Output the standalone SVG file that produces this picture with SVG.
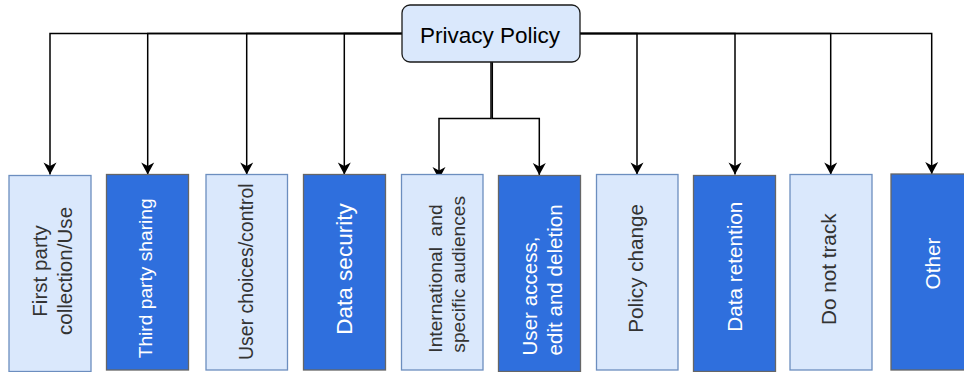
<svg xmlns="http://www.w3.org/2000/svg" width="964" height="372" viewBox="0 0 964 372">
<style>
.lt{fill:#dae8fc;stroke:#6c8ebf;stroke-width:1.3}
.dk{fill:#2f6fdd;stroke:#666666;stroke-width:1.3}
.root{fill:#dae8fc;stroke:#1a1a1a;stroke-width:1.3}
text{font-family:"Liberation Sans",Arial,Helvetica,sans-serif}
.tl{fill:#333333}
.td{fill:#ffffff}
.e{fill:none;stroke:#000000;stroke-width:1.5;marker-end:url(#arr)}
</style>
<defs>
<marker id="arr" viewBox="0 0 14 14" markerUnits="userSpaceOnUse" markerWidth="14" markerHeight="14" refX="13" refY="7" orient="auto">
<path d="M1,0.5 L13,7 L1,13.5 L4.5,7 Z" fill="#000000"/>
</marker>
</defs>
<g id="connectors">
<path class="e" d="M402,33.5 H50 V174.5"/>
<path class="e" d="M402,33.5 H147.7 V174.5"/>
<path class="e" d="M402,33.5 H246.7 V174.5"/>
<path class="e" d="M402,33.5 H344.3 V174.5"/>
<path class="e" d="M491,62 V118.5 H439 V179"/>
<path class="e" d="M492.3,62 V118.5 H539.3 V175"/>
<path class="e" d="M580,33.5 H637 V174.5"/>
<path class="e" d="M580,33.5 H735 V174.5"/>
<path class="e" d="M580,33.5 H830.7 V174.5"/>
<path class="e" d="M580,33.5 H931.7 V174"/>
</g>
<g id="root">
<rect class="root" x="402" y="5" width="178" height="57" rx="8"/>
<text x="490" y="42.5" font-size="22.5" text-anchor="middle" fill="#000000">Privacy Policy</text>
</g>
<g id="n1">
<rect class="lt" x="9" y="175.5" width="82" height="196"/>
<text class="tl" font-size="20.6" text-anchor="middle" transform="translate(46.5,271) rotate(-90)">First party</text>
<text class="tl" font-size="20.6" text-anchor="middle" transform="translate(71.5,271) rotate(-90)">collection/Use</text>
</g>
<g id="n2">
<rect class="dk" x="106.5" y="174.5" width="82" height="195.5"/>
<text class="td" font-size="19.2" text-anchor="middle" transform="translate(151.7,278.3) rotate(-90)">Third party sharing</text>
</g>
<g id="n3">
<rect class="lt" x="206" y="174.5" width="81.5" height="195.5"/>
<text class="tl" font-size="19.5" text-anchor="middle" transform="translate(253.3,271.7) rotate(-90)">User choices/control</text>
</g>
<g id="n4">
<rect class="dk" x="303.5" y="174.5" width="82" height="195.5"/>
<text class="td" font-size="22.5" text-anchor="middle" transform="translate(351.7,269) rotate(-90)">Data security</text>
</g>
<g id="n5">
<rect class="lt" x="401.5" y="174.5" width="81.5" height="195.5"/>
<text class="tl" font-size="19.2" text-anchor="start" transform="translate(442.3,352.7) rotate(-90)">International&#160; and</text>
<text class="tl" font-size="19.2" text-anchor="start" transform="translate(464.5,352.7) rotate(-90)">specific audiences</text>
</g>
<g id="n6">
<rect class="dk" x="498.5" y="175.5" width="82" height="196"/>
<text class="td" font-size="20.6" text-anchor="start" transform="translate(536.7,355.5) rotate(-90)">User access,</text>
<text class="td" font-size="20.6" text-anchor="start" transform="translate(561.5,355.5) rotate(-90)">edit and deletion</text>
</g>
<g id="n7">
<rect class="lt" x="596.5" y="174.5" width="81.5" height="195.5"/>
<text class="tl" font-size="20.7" text-anchor="middle" transform="translate(643.3,268.3) rotate(-90)">Policy change</text>
</g>
<g id="n8">
<rect class="dk" x="693.5" y="175.5" width="82" height="196"/>
<text class="td" font-size="20.7" text-anchor="middle" transform="translate(741.7,266.7) rotate(-90)">Data retention</text>
</g>
<g id="n9">
<rect class="lt" x="790" y="174.5" width="82" height="195.5"/>
<text class="tl" font-size="20.7" text-anchor="middle" transform="translate(836,269.2) rotate(-90)">Do not track</text>
</g>
<g id="n10">
<rect class="dk" x="891" y="174" width="82" height="196"/>
<text class="td" font-size="20.7" text-anchor="middle" transform="translate(939.5,263.5) rotate(-90)">Other</text>
</g>
</svg>
